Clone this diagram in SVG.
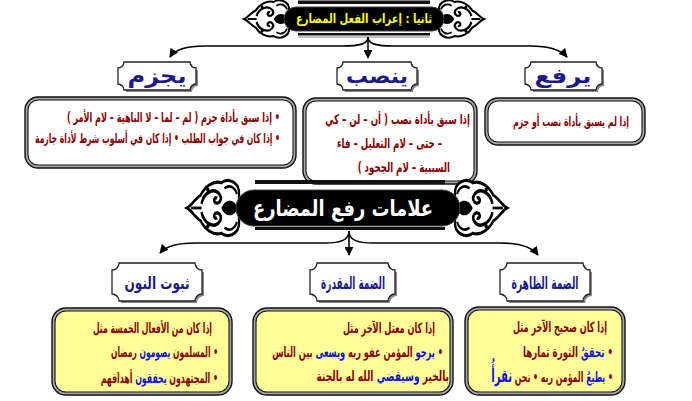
<svg xmlns="http://www.w3.org/2000/svg" width="692" height="401" viewBox="0 0 692 401">
<defs>
<style>
.t{font-family:"DejaVu Sans",sans-serif;font-weight:bold;direction:rtl;text-anchor:start;}
.body{font-size:13.5px;fill:#8b0000;}
.yb{font-size:14px;fill:#8b0000;}
.b{fill:#1010e8;}
.lab{font-size:21px;fill:#1a1a8c;text-anchor:middle;}
.lab2{font-size:17px;fill:#1a1a8c;text-anchor:middle;}
.conn{fill:none;stroke:#000;stroke-width:1.6;}
.frameO{stroke:#111;stroke-width:1.4;fill:#a8a8a8;}
.frameI{stroke:#111;stroke-width:1.1;}
.plaque{fill:#fff;stroke:#222;stroke-width:1.3;}
.shadow{fill:#8a8a8a;}
.white{fill:#fff;}
.yel{fill:#ffff99;}
</style>
<marker id="ah" viewBox="0 0 10 10" refX="9" refY="5" markerWidth="9" markerHeight="9" markerUnits="userSpaceOnUse" orient="auto"><path d="M0,0 L10,5 L0,10 Z" fill="#000"/></marker>
<g id="orn">
<path d="M0,0 C5,-2 8,-7 13,-9 C17,-15 25,-20 33,-18 C38,-21 45,-20 49,-15 L50,-12 L50,12 L49,15 C45,20 38,21 33,18 C25,20 17,15 13,9 C8,7 5,2 0,0 Z" fill="#fff" stroke="#000" stroke-width="2.2"/>
<path d="M4,0 L14,0" stroke="#000" stroke-width="2"/>
<path d="M14,-3 C16,-11 26,-15 31,-10 C35,-6 30,-2 27,-4 C25,-6 27,-8 29,-7" fill="none" stroke="#000" stroke-width="2.4"/>
<path d="M14,3 C16,11 26,15 31,10 C35,6 30,2 27,4 C25,6 27,8 29,7" fill="none" stroke="#000" stroke-width="2.4"/>
<path d="M33,0 C37,-7 45,-7 49,0 C45,7 37,7 33,0 Z" fill="#000"/>
<path d="M36,-14 C41,-17 46,-15 48,-10" fill="none" stroke="#000" stroke-width="2"/>
<path d="M36,14 C41,17 46,15 48,10" fill="none" stroke="#000" stroke-width="2"/>
<circle cx="20" cy="-13" r="1.6"/>
<circle cx="20" cy="13" r="1.6"/>
</g>
</defs>
<rect width="692" height="401" fill="#fff"/>

<g id="banner-top">
<rect x="298" y="0.5" width="132" height="3.5" fill="#111"/>
<rect x="298" y="33" width="132" height="2.5" fill="#111"/>
<rect x="298" y="36.5" width="132" height="1" fill="#888"/>
<use href="#orn" transform="translate(244,19) scale(0.9,0.95)"/>
<use href="#orn" transform="translate(484,19) scale(-0.9,0.95)"/>
<rect x="284" y="7" width="160" height="24" rx="12" fill="#000" stroke="#444" stroke-width="1"/>
<text class="t" x="364" y="23" style="text-anchor:middle;font-size:13px;fill:#ffff00" textLength="136" lengthAdjust="spacingAndGlyphs">ثانيا : إعراب الفعل المضارع</text>
</g>

<g id="connectors">
<path class="conn" d="M368,37 C368,44 360,46 342,46 L205,46 C186,46 175,49 170,57" marker-end="url(#ah)"/>
<path class="conn" d="M368,37 L368,58" marker-end="url(#ah)"/>
<path class="conn" d="M368,37 C368,44 376,46 394,46 L530,46 C550,46 561,50 567,57" marker-end="url(#ah)"/>
<path class="conn" d="M349,231 C349,240 341,243 325,243 L195,243 C176,243 166,246 160,253" marker-end="url(#ah)"/>
<path class="conn" d="M349,231 L349,255" marker-end="url(#ah)"/>
<path class="conn" d="M349,231 C349,240 357,243 373,243 L500,243 C520,243 532,247 538,255" marker-end="url(#ah)"/>
</g>

<g id="lab-yajzim">
<path class="shadow" transform="translate(2,2)" d="M124,62 H190 A6,6 0 0 0 196,68 V84 A6,6 0 0 0 190,90 H124 A6,6 0 0 0 118,84 V68 A6,6 0 0 0 124,62 Z"/>
<path class="plaque" d="M124,62 H190 A6,6 0 0 0 196,68 V84 A6,6 0 0 0 190,90 H124 A6,6 0 0 0 118,84 V68 A6,6 0 0 0 124,62 Z"/>
<text class="t lab" x="157" y="83" textLength="59" lengthAdjust="spacingAndGlyphs">يجزم</text>
</g>
<g id="lab-yansib">
<path class="shadow" transform="translate(2,2)" d="M343,62 H411 A6,6 0 0 0 417,68 V84 A6,6 0 0 0 411,90 H343 A6,6 0 0 0 337,84 V68 A6,6 0 0 0 343,62 Z"/>
<path class="plaque" d="M343,62 H411 A6,6 0 0 0 417,68 V84 A6,6 0 0 0 411,90 H343 A6,6 0 0 0 337,84 V68 A6,6 0 0 0 343,62 Z"/>
<text class="t lab" x="377" y="83" textLength="62" lengthAdjust="spacingAndGlyphs">ينصب</text>
</g>
<g id="lab-yarfa">
<path class="shadow" transform="translate(2,2)" d="M531,62 H596 A6,6 0 0 0 602,68 V84 A6,6 0 0 0 596,90 H531 A6,6 0 0 0 525,84 V68 A6,6 0 0 0 531,62 Z"/>
<path class="plaque" d="M531,62 H596 A6,6 0 0 0 602,68 V84 A6,6 0 0 0 596,90 H531 A6,6 0 0 0 525,84 V68 A6,6 0 0 0 531,62 Z"/>
<text class="t lab" x="563" y="83" textLength="57" lengthAdjust="spacingAndGlyphs">يرفع</text>
</g>

<g id="box-yajzim">
<rect class="frameO" x="25" y="97" width="271" height="71" rx="13"/>
<rect class="frameI white" x="28" y="100" width="265" height="65" rx="10"/>
<text class="t body" x="280" y="122" textLength="213" lengthAdjust="spacingAndGlyphs">• إذا سبق بأداة جزم ( لم – لما – لا الناهية – لام الأمر )</text>
<text class="t body" x="280" y="143" textLength="245" lengthAdjust="spacingAndGlyphs">• إذا كان في جواب الطلب • إذا كان في أسلوب شرط لأداة جازمة</text>
</g>
<g id="box-yansib">
<rect class="frameO" x="303" y="98" width="174" height="86" rx="13"/>
<rect class="frameI white" x="306" y="101" width="168" height="80" rx="10"/>
<text class="t body" transform="translate(470,124) scale(0.64,1)">إذا سبق بأداة نصب ( أن  – لن  – كي</text>
<text class="t body" transform="translate(442,148) scale(0.64,1)">– حتى  – لام التعليل  – فاء</text>
<text class="t body" transform="translate(450,172) scale(0.64,1)">السببية  – لام الجحود )</text>
</g>
<g id="box-yarfa">
<rect class="frameO" x="485" y="98" width="160" height="47" rx="13"/>
<rect class="frameI white" x="488" y="101" width="154" height="41" rx="10"/>
<text class="t body" x="629" y="126" style="font-size:12.5px" textLength="116" lengthAdjust="spacingAndGlyphs">إذا لم يسبق بأداة نصب أو جزم</text>
</g>

<g id="banner-bottom">
<rect x="255" y="180" width="190" height="4" fill="#111"/>
<rect x="255" y="227" width="190" height="3" fill="#111"/>
<use href="#orn" transform="translate(187,208) scale(1.04,1.4)"/>
<use href="#orn" transform="translate(507,208) scale(-1.04,1.4)"/>
<rect x="236" y="190" width="224" height="36" rx="18" fill="#000" stroke="#444" stroke-width="1"/>
<text class="t" x="343" y="216" style="text-anchor:middle;font-size:22px;fill:#fff" textLength="180" lengthAdjust="spacingAndGlyphs">علامات رفع المضارع</text>
</g>

<g id="lab-thubut">
<path class="shadow" transform="translate(2,2)" d="M119,263 H195 A7,7 0 0 0 202,270 V294 A7,7 0 0 0 195,301 H119 A7,7 0 0 0 112,294 V270 A7,7 0 0 0 119,263 Z"/>
<path class="plaque" d="M119,263 H195 A7,7 0 0 0 202,270 V294 A7,7 0 0 0 195,301 H119 A7,7 0 0 0 112,294 V270 A7,7 0 0 0 119,263 Z"/>
<text class="t lab2" x="157" y="289" textLength="65" lengthAdjust="spacingAndGlyphs">ثبوت النون</text>
</g>
<g id="lab-muqaddara">
<path class="shadow" transform="translate(2,2)" d="M317,263 H388 A7,7 0 0 0 395,270 V294 A7,7 0 0 0 388,301 H317 A7,7 0 0 0 310,294 V270 A7,7 0 0 0 317,263 Z"/>
<path class="plaque" d="M317,263 H388 A7,7 0 0 0 395,270 V294 A7,7 0 0 0 388,301 H317 A7,7 0 0 0 310,294 V270 A7,7 0 0 0 317,263 Z"/>
<text class="t lab2" x="353" y="289" textLength="64" lengthAdjust="spacingAndGlyphs">الضمة المقدرة</text>
</g>
<g id="lab-zahira">
<path class="shadow" transform="translate(2,2)" d="M507,263 H583 A7,7 0 0 0 590,270 V294 A7,7 0 0 0 583,301 H507 A7,7 0 0 0 500,294 V270 A7,7 0 0 0 507,263 Z"/>
<path class="plaque" d="M507,263 H583 A7,7 0 0 0 590,270 V294 A7,7 0 0 0 583,301 H507 A7,7 0 0 0 500,294 V270 A7,7 0 0 0 507,263 Z"/>
<text class="t lab2" x="545" y="289" textLength="67" lengthAdjust="spacingAndGlyphs">الضمة الظاهرة</text>
</g>

<g id="box-thubut">
<rect class="frameO" x="52" y="308" width="180" height="87" rx="14"/>
<rect class="frameI yel" x="55" y="311" width="174" height="81" rx="11"/>
<text class="t yb" x="212" y="333" textLength="119" lengthAdjust="spacingAndGlyphs">إذا كان من الأفعال الخمسة مثل</text>
<text class="t yb" transform="translate(218,357) scale(0.54,1)">• المسلمون <tspan class="b">يصومون</tspan> رمضان</text>
<text class="t yb" transform="translate(218,383) scale(0.56,1)">• المجتهدون <tspan class="b">يحققون</tspan> أهدافهم</text>
</g>
<g id="box-muqaddara">
<rect class="frameO" x="253" y="308" width="200" height="87" rx="14"/>
<rect class="frameI yel" x="256" y="311" width="194" height="81" rx="11"/>
<text class="t yb" x="435" y="333" textLength="92" lengthAdjust="spacingAndGlyphs">إذا كان معتل الآخر مثل</text>
<text class="t yb" transform="translate(443,357) scale(0.59,1)">• <tspan class="b">يرجو</tspan> المؤمن عفو ربه  <tspan class="b">ويسعى</tspan> بين الناس</text>
<text class="t yb" transform="translate(449,381) scale(0.65,1)">بالخير <tspan class="b">وسيقضي</tspan> الله له بالجنة</text>
</g>
<g id="box-zahira">
<rect class="frameO" x="465" y="307" width="160" height="88" rx="14"/>
<rect class="frameI yel" x="468" y="310" width="154" height="82" rx="11"/>
<text class="t yb" x="607" y="332" textLength="94" lengthAdjust="spacingAndGlyphs">إذا كان صحيح الآخر مثل</text>
<text class="t yb" transform="translate(613,357) scale(0.62,1)">• <tspan class="b">تحققُ</tspan> الثورة ثمارها</text>
<text class="t yb" transform="translate(613,382) scale(0.56,1)">• <tspan class="b">يطيعُ</tspan> المؤمن ربه • نحن <tspan class="b" style="font-size:18px">نقرأُ</tspan></text>
</g>
</svg>
